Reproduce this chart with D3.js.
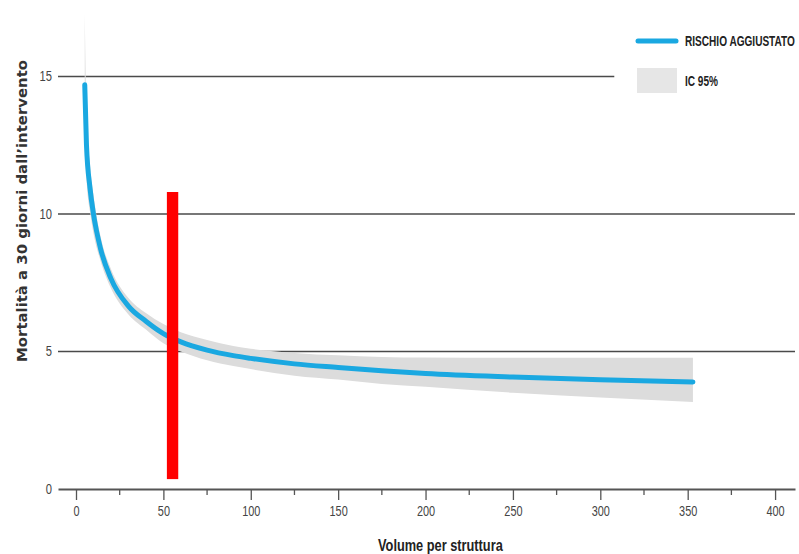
<!DOCTYPE html>
<html>
<head>
<meta charset="utf-8">
<script src="https://cdn.jsdelivr.net/npm/d3@7"></script>
<style>
  body { margin: 0; background: #fff; }
  text { font-family: "Liberation Sans", Arial, sans-serif; }
</style>
</head>
<body>
<div id="chart"></div>
<script>
// volume per struttura vs adjusted 30-day mortality
var volume = [5, 6, 8, 10, 14, 20, 30, 40, 50, 60, 75, 90, 100, 125, 150, 175, 200, 250, 300, 353];
var risk   = [14.7, 12.5, 10.95, 10.0, 8.75, 7.65, 6.65, 6.1, 5.65, 5.35, 5.05, 4.85, 4.75, 4.55, 4.42, 4.3, 4.2, 4.07, 3.97, 3.89];
var lower  = [12.8, 11.3, 10.1, 9.3, 8.3, 7.3, 6.35, 5.8, 5.3, 5.0, 4.68, 4.47, 4.36, 4.12, 3.98, 3.82, 3.72, 3.5, 3.33, 3.16];
var upper  = [17.3, 14.0, 11.8, 10.7, 9.2, 8.0, 6.95, 6.4, 6.0, 5.7, 5.42, 5.2, 5.1, 4.95, 4.86, 4.8, 4.78, 4.77, 4.77, 4.77];

var xTicks = [0, 50, 100, 150, 200, 250, 300, 350, 400];
var xMinorTicks = [25, 75, 125, 175, 225, 275, 325, 375];
var yTicks = [0, 5, 10, 15];

// red highlight bar (volume range, mortality range)
var markVolume = [52, 58.5];
var markRisk = [0.36, 10.8];

var legendLabels = ['RISCHIO AGGIUSTATO', 'IC 95%'];

var width = 799, height = 554;
var blue = '#1aa8e1';

var svg = d3.select('#chart').append('svg').attr('width', width).attr('height', height);

var x = d3.scaleLinear().domain([-10.3, 411.4]).range([58, 795]);
var y = d3.scaleLinear().domain([0, 15]).range([489, 76.5]);

var data = volume.map(function (v, i) {
  return { v: v, r: risk[i], lo: lower[i], hi: upper[i] };
});

// gridlines (the top one stops short of the legend)
svg.append('g').selectAll('line')
  .data(yTicks.filter(function (d) { return d > 0; }))
  .enter().append('line')
  .attr('x1', 58)
  .attr('x2', function (d) { return d === 15 ? x(308) : 795; })
  .attr('y1', function (d) { return y(d); })
  .attr('y2', function (d) { return y(d); })
  .attr('stroke', '#4a4a4a')
  .attr('stroke-width', 1.4);

// y tick labels (squeezed to look condensed)
svg.append('g').selectAll('text')
  .data(yTicks)
  .enter().append('text')
  .attr('transform', function (d) { return 'translate(52,' + y(d) + ') scale(0.8,1)'; })
  .attr('dy', '0.35em')
  .attr('text-anchor', 'end')
  .attr('font-size', 14)
  .attr('fill', '#444')
  .text(function (d) { return d; });

// confidence band
var area = d3.area()
  .x(function (d) { return x(d.v); })
  .y0(function (d) { return y(d.lo); })
  .y1(function (d) { return y(d.hi); })
  .curve(d3.curveMonotoneX);

svg.append('path')
  .datum(data)
  .attr('d', area)
  .attr('fill', '#dcdcdc');

// adjusted risk line
var line = d3.line()
  .x(function (d) { return x(d.v); })
  .y(function (d) { return y(d.r); })
  .curve(d3.curveMonotoneX);

svg.append('path')
  .datum(data)
  .attr('d', line)
  .attr('fill', 'none')
  .attr('stroke', blue)
  .attr('stroke-width', 5)
  .attr('stroke-linecap', 'round');

// x axis
var xAxis = d3.axisBottom(x)
  .tickValues(xTicks)
  .tickSize(11)
  .tickSizeOuter(0)
  .tickPadding(6);

var gx = svg.append('g')
  .attr('transform', 'translate(0,489)')
  .call(xAxis);

gx.select('.domain').attr('stroke', '#555').attr('stroke-width', 2);
gx.selectAll('.tick line').attr('stroke', '#555').attr('stroke-width', 1.3);
gx.selectAll('.tick text')
  .attr('font-size', 14)
  .attr('fill', '#444')
  .attr('font-family', '"Liberation Sans", Arial, sans-serif')
  .attr('transform', 'scale(0.78,1)');

gx.selectAll('.minor')
  .data(xMinorTicks)
  .enter().append('line')
  .attr('class', 'minor')
  .attr('x1', function (d) { return x(d); })
  .attr('x2', function (d) { return x(d); })
  .attr('y1', 0)
  .attr('y2', 6)
  .attr('stroke', '#555')
  .attr('stroke-width', 1.3);

// highlight bar
svg.append('rect')
  .attr('x', x(markVolume[0]))
  .attr('width', x(markVolume[1]) - x(markVolume[0]))
  .attr('y', y(markRisk[1]))
  .attr('height', y(markRisk[0]) - y(markRisk[1]))
  .attr('fill', '#ff0000');

// axis titles
svg.append('text')
  .attr('transform', 'translate(378,551) scale(0.8,1)')
  .attr('font-size', 16)
  .attr('font-weight', 'bold')
  .attr('fill', '#222')
  .text('Volume per struttura');

svg.append('text')
  .attr('transform', 'translate(27,211) rotate(-90)')
  .attr('text-anchor', 'middle')
  .attr('textLength', 302)
  .attr('lengthAdjust', 'spacingAndGlyphs')
  .style('font-family', '"DejaVu Sans", Verdana, sans-serif')
  .attr('font-size', 14)
  .attr('font-weight', 'bold')
  .attr('fill', '#333')
  .text('Mortalità a 30 giorni dall\u2019intervento');

// legend
var legend = svg.append('g');

legend.append('line')
  .attr('x1', 638).attr('x2', 676)
  .attr('y1', 41).attr('y2', 41)
  .attr('stroke', blue)
  .attr('stroke-width', 5)
  .attr('stroke-linecap', 'round');

legend.append('rect')
  .attr('x', 637).attr('y', 68)
  .attr('width', 40).attr('height', 25)
  .attr('fill', '#e6e6e6');

legend.selectAll('text')
  .data(legendLabels)
  .enter().append('text')
  .attr('transform', function (d, i) { return 'translate(685,' + (i === 0 ? 41 : 81) + ') scale(0.72,1)'; })
  .attr('dy', '0.35em')
  .attr('font-size', 14)
  .attr('font-weight', 'bold')
  .attr('fill', '#222')
  .text(function (d) { return d; });
</script>
</body>
</html>
